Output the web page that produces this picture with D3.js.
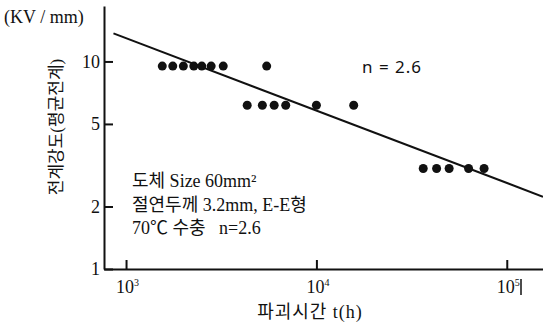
<!DOCTYPE html>
<html>
<head>
<meta charset="UTF-8">
<title>Breakdown strength vs time</title>
<style>
  body { margin: 0; background: #fff; }
  text { fill: #111; }
  .serif { font-family: "Liberation Serif", "DejaVu Serif", serif; }
  .kr { font-family: "Liberation Serif", "Noto Sans CJK KR", serif; white-space: pre; }
  .sans { font-family: "Noto Sans", sans-serif; }
</style>
</head>
<body>
<svg width="543" height="327"></svg>
<script src="https://d3js.org/d3.v7.min.js"></script>
<script>
// data
var timeHours = [1550, 1760, 2000, 2270, 2500, 2800, 3240, 5480,
                 4330, 5200, 6000, 6900, 10000, 15700,
                 36400, 42800, 49800, 63000, 76000];
var strengthKV = [9.5, 9.5, 9.5, 9.5, 9.5, 9.5, 9.5, 9.5,
                  6.15, 6.15, 6.15, 6.15, 6.15, 6.15,
                  3.05, 3.05, 3.05, 3.05, 3.05];
var fitTime = [859, 155000];
var fitStrength = [13.65, 2.23];
var xTicks = [1000, 10000, 100000];
var xTickExp = ["3", "4", "5"];
var yTicks = [1, 2, 5, 10];
var legendLines = ["도체 Size 60mm²", "절연두께 3.2mm, E-E형", "70℃ 수충   n=2.6"];

var svg = d3.select("svg");

var x = d3.scaleLog().domain([766, 155000]).range([104, 543]);
var y = d3.scaleLog().domain([1, 18.5]).range([269, 6]);

// x axis, ticks pointing up
var gx = svg.append("g").attr("transform", "translate(0,269)")
    .call(d3.axisBottom(x).tickValues(xTicks).tickSizeInner(-9).tickSizeOuter(0).tickFormat(""));
gx.select(".domain").attr("stroke", "#111").attr("stroke-width", 2);
gx.selectAll(".tick line").attr("stroke", "#111").attr("stroke-width", 2);

// y axis, ticks pointing right
var gy = svg.append("g").attr("transform", "translate(104,0)")
    .call(d3.axisLeft(y).tickValues(yTicks).tickSizeInner(-9).tickSizeOuter(0).tickPadding(4).tickFormat(d3.format("d")));
gy.select(".domain").attr("stroke", "#111").attr("stroke-width", 2);
gy.selectAll(".tick line").attr("stroke", "#111").attr("stroke-width", 2);
gy.selectAll(".tick text").attr("class", "serif").attr("font-size", 18).attr("fill", "#111");

// x tick labels 10^n
xTicks.forEach(function (t, i) {
  var lbl = svg.append("text").attr("class", "serif").attr("font-size", 18)
      .attr("x", x(t) - 10).attr("y", 293);
  lbl.append("tspan").text("10");
  lbl.append("tspan").attr("font-size", 10).attr("dy", -7).text(xTickExp[i]);
});
svg.append("line").attr("x1", 521).attr("x2", 521).attr("y1", 279).attr("y2", 295)
   .attr("stroke", "#111").attr("stroke-width", 1.5);

// fitted line
svg.append("line")
   .attr("x1", x(fitTime[0])).attr("y1", y(fitStrength[0]))
   .attr("x2", x(fitTime[1])).attr("y2", y(fitStrength[1]))
   .attr("stroke", "#111").attr("stroke-width", 2);

// points
svg.selectAll("circle.pt").data(timeHours).enter().append("circle")
   .attr("class", "pt")
   .attr("cx", function (d) { return x(d); })
   .attr("cy", function (d, i) { return y(strengthKV[i]); })
   .attr("r", 4.5).attr("fill", "#111");

// unit label
svg.append("text").attr("class", "serif").attr("font-size", 18)
   .attr("x", 4).attr("y", 23).text("(KV / mm)");

// y title
svg.append("text").attr("class", "kr").attr("font-size", 17)
   .attr("transform", "translate(62,127) rotate(-90)")
   .attr("text-anchor", "middle").text("전계강도(평균전계)");

// x title
svg.append("text").attr("class", "kr").attr("font-size", 18)
   .attr("letter-spacing", 1)
   .attr("x", 310).attr("y", 318).attr("text-anchor", "middle").text("파괴시간 t(h)");

// n label near line
svg.append("text").attr("class", "sans").attr("font-size", 17)
   .attr("letter-spacing", 1)
   .attr("x", 362).attr("y", 73).text("n = 2.6");

// legend text
legendLines.forEach(function (s, i) {
  svg.append("text").attr("class", "kr").attr("font-size", 18)
     .attr("x", 132).attr("y", 187 + i * 23.5).text(s);
});
</script>
</body>
</html>
